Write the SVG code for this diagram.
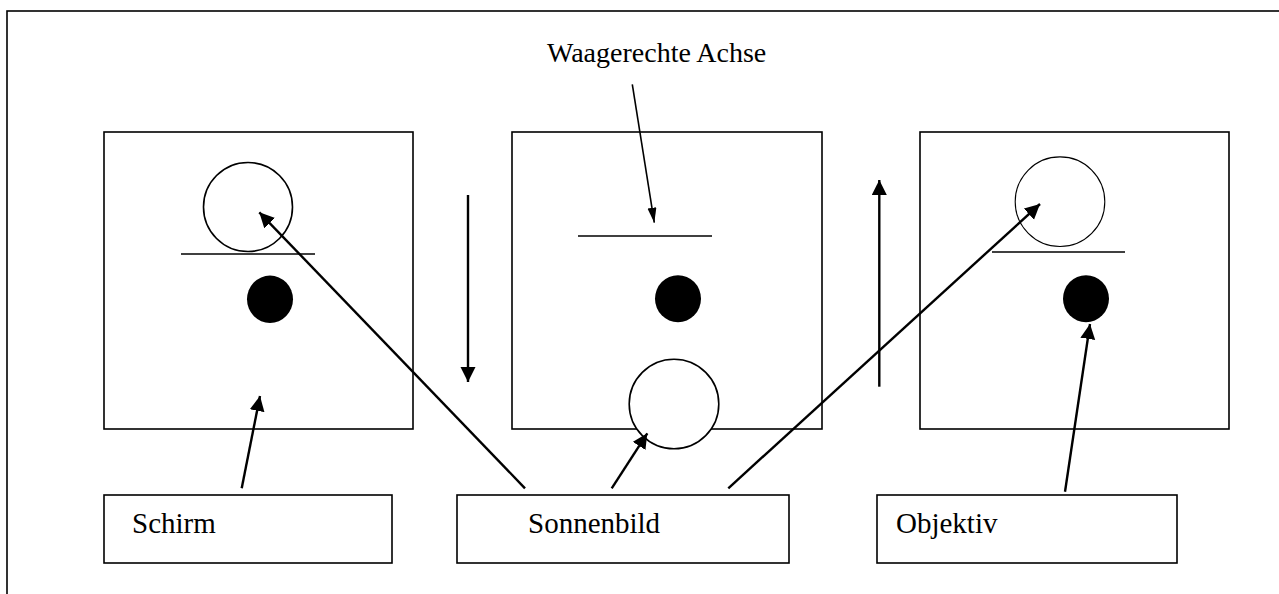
<svg xmlns="http://www.w3.org/2000/svg" width="1279" height="594" viewBox="0 0 1279 594">
<style>
.box{fill:#fff;stroke:#000;stroke-width:1.6}
.ln{stroke:#000;stroke-width:1.6;fill:none}
.ring{fill:#fff;stroke:#000;stroke-width:1.6}
.dot{fill:#000}
.arr{stroke:#000;stroke-width:2.4;fill:none;marker-end:url(#ah)}
.arrt{stroke:#000;stroke-width:1.6;fill:none;marker-end:url(#aht)}
.lbl{font-family:"Liberation Serif","Times New Roman",serif;font-size:29px;fill:#000}
</style>
<defs>
<marker id="ah" markerUnits="userSpaceOnUse" markerWidth="16" markerHeight="16" refX="15" refY="7.5" orient="auto" viewBox="0 0 16 16">
<path d="M0,0 L15,7.5 L0,15 Z" fill="#000"/>
</marker>
<marker id="aht" markerUnits="userSpaceOnUse" markerWidth="16" markerHeight="10" refX="15" refY="4.5" orient="auto" viewBox="0 0 16 10">
<path d="M0,0 L15,4.5 L0,9 Z" fill="#000"/>
</marker>
</defs>
<rect width="1279" height="594" fill="#fff"/>
<rect x="7" y="11" width="1300" height="620" fill="none" stroke="#000" stroke-width="1.6"/>

<g id="title">
<text class="lbl" x="547" y="62" style="font-size:28px">Waagerechte Achse</text>
</g>

<g id="panel-left">
<rect class="box" x="104" y="132" width="309" height="297"/>
<circle class="ring" cx="248" cy="207" r="44.5"/>
<line class="ln" x1="181" y1="254" x2="315" y2="254"/>
<ellipse class="dot" cx="270" cy="299.3" rx="23" ry="23.7"/>
</g>

<g id="panel-middle">
<rect class="box" x="512" y="132" width="310" height="297"/>
<line class="ln" x1="578" y1="236" x2="712" y2="236"/>
<ellipse class="dot" cx="678" cy="298.7" rx="23" ry="23.5"/>
<circle class="ring" cx="674" cy="404" r="44.8"/>
</g>

<g id="panel-right">
<rect class="box" x="920" y="132" width="309" height="297"/>
<circle class="ring" cx="1060" cy="201.7" r="44.8" style="stroke-width:1.1"/>
<line class="ln" x1="992" y1="252" x2="1125" y2="252"/>
<ellipse class="dot" cx="1086" cy="298.7" rx="23" ry="23.5"/>
</g>

<g id="label-schirm">
<rect class="box" x="104" y="495" width="288" height="68"/>
<text class="lbl" x="132" y="533">Schirm</text>
</g>

<g id="label-sonnenbild">
<rect class="box" x="457" y="495" width="332" height="68"/>
<text class="lbl" x="528" y="533">Sonnenbild</text>
</g>

<g id="label-objektiv">
<rect class="box" x="877" y="495" width="300" height="68"/>
<text class="lbl" x="896" y="533">Objektiv</text>
</g>

<g id="connectors">
<line class="arrt" x1="632.3" y1="84.3" x2="654.3" y2="222.7"/>
<line class="arr" x1="468" y1="195" x2="468" y2="382"/>
<line class="arr" x1="879.3" y1="386.7" x2="879.3" y2="180"/>
<line class="arr" x1="241.7" y1="488.3" x2="260" y2="396"/>
<line class="arr" x1="525" y1="488.3" x2="259.3" y2="212.3"/>
<line class="arr" x1="611.7" y1="488.3" x2="647.3" y2="433.3"/>
<line class="arr" x1="728.3" y1="488.3" x2="1040" y2="204"/>
<line class="arr" x1="1065" y1="491.7" x2="1090" y2="324"/>
</g>
</svg>
